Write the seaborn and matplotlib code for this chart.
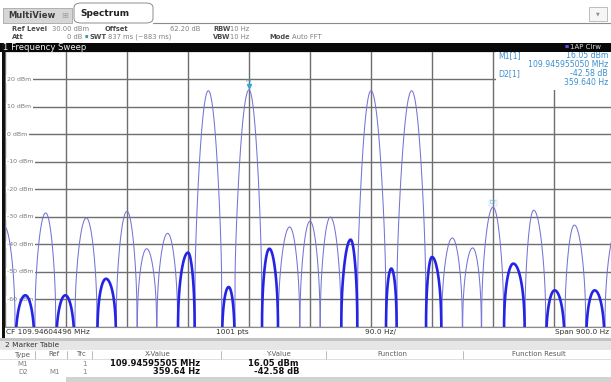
import numpy as np
import pandas as pd
import matplotlib
matplotlib.use("Agg")
import matplotlib.pyplot as plt
import seaborn as sns
from matplotlib.patches import Rectangle, FancyBboxPatch

# ---------------- data ----------------
# lobe edges (nulls), Hz offset from centre frequency
lobe_nulls = [-466, -435, -406, -375, -347, -314, -286, -255, -226, -195, -170,
              -130, -111, -71, -47, -15, 15, 46, 70, 112, 128, 171, 194, 225,
              253, 286, 317, 348, 376, 407, 435, 468]
# lobe peak positions (Hz offset) and peak levels (dBm)
lobe_peak_freq = [-451, -420, -390, -361, -330, -301, -270, -241, -210, -180, -150,
                  -120, -90, -60, -30, 0, 30, 60, 90, 120, 150,
                  180, 210, 240, 270, 300, 330, 361, 390, 420, 452]
lobe_peak_dbm = [-33.5, -58.5, -28.6, -58.5, -30.4, -52.5, -28.0, -41.6, -36.0, -43.0, 15.75,
                 -55.5, 16.05, -41.6, -33.7, -31.6, -30.1, -38.3, 15.75, -48.8, 15.75,
                 -44.6, -37.7, -41.3, -26.5, -47.0, -27.6, -56.7, -33.0, -56.7, -35.0]
lobe_kind = ["thin", "noisy", "thin", "noisy", "thin", "noisy", "thin", "thin", "thin", "noisy", "thin",
             "noisy", "thin", "noisy", "thin", "thin", "thin", "noisy", "thin", "noisy", "thin",
             "noisy", "thin", "thin", "thin", "noisy", "thin", "noisy", "thin", "noisy", "thin"]

y_tick_values = [20, 10, 0, -10, -20, -30, -40, -50, -60]
m1_freq, m1_level = -90.0, 16.05
d2_freq, d2_level = 269.64, -26.53

# ---------------- build trace table ----------------
rows = []
for i in range(len(lobe_peak_freq)):
    a, b = lobe_nulls[i], lobe_nulls[i + 1]
    p, L = lobe_peak_freq[i], lobe_peak_dbm[i]
    f = np.linspace(a, b, 81)
    u = np.where(f < p, (f - p) / (p - a), (f - p) / (b - p))
    k = max(6.0, 22 + 0.744 * (L + 28.6))
    y = L - k * u ** 2 + 10 * np.log10(np.clip(1 - u ** 2, 1e-6, None))
    y = np.maximum(y, -80)
    for fi, yi in zip(f, y):
        rows.append({"freq": fi, "level": yi, "lobe": i, "kind": lobe_kind[i]})
df = pd.DataFrame(rows)

# ---------------- figure ----------------
sns.set_style("white")
plt.rcParams["font.family"] = ["DejaVu Sans"]
W, H = 611, 382
fig = plt.figure(figsize=(W / 100, H / 100), dpi=100)
fig.patch.set_facecolor("white")

def fx(x): return x / W
def fy(y): return 1 - y / H
def ftext(x, y, s, **kw):
    kw.setdefault("va", "center")
    fig.text(fx(x), fy(y), s, **kw)
def frect(x0, y0, x1, y1, **kw):
    fig.add_artist(Rectangle((fx(x0), fy(y1)), (x1 - x0) / W, (y1 - y0) / H,
                             transform=fig.transFigure, **kw))

# plot axes
x0p, x1p, y0p, y1p = 5, 615, 51.5, 327
ax = fig.add_axes([fx(x0p), fy(y1p), (x1p - x0p) / W, (y1p - y0p) / H])
ax.set_facecolor("white")
sns.lineplot(data=df, x="freq", y="level", units="lobe", hue="kind", size="kind",
             sizes={"thin": 0.75, "noisy": 1.9},
             palette={"thin": "#7474d6", "noisy": "#2424e4"},
             estimator=None, sort=False, legend=False, ax=ax, zorder=2)
ax.set_xlim(-450, 450)
ax.set_ylim(-70, 30)
ax.set_xticks(np.arange(-450, 451, 90))
ax.set_yticks(np.arange(-70, 31, 10))
ax.set_axisbelow(True)
ax.grid(True, color="#6e6e6e", lw=1.0)
ax.tick_params(left=False, bottom=False, labelleft=False, labelbottom=False)
ax.set_xlabel("")
ax.set_ylabel("")
for s in ["top", "right", "bottom", "left"]:
    ax.spines[s].set_visible(False)

for v in y_tick_values:
    ax.text(0.004, v, f"{v} dBm", transform=ax.get_yaxis_transform(), fontsize=4.5,
            color="#7a7a7a", va="center", ha="left", zorder=1.6,
            bbox=dict(facecolor="white", edgecolor="none", pad=0.8))

# marker info box (covers grid)
ax.add_patch(Rectangle((274.4, 16.0), 200, 20, facecolor="white", edgecolor="none", zorder=1.5))
mc = "#3a8fd0"
def ptext(x, y, s, **kw):
    kw.setdefault("va", "center")
    ax.text((x - x0p) / (x1p - x0p), 1 - (y - y0p) / (y1p - y0p), s,
            transform=ax.transAxes, color=mc, fontsize=5.6, zorder=4, **kw)
ptext(498, 56, "M1[1]", ha="left")
ptext(608, 56, "16.05 dBm", ha="right")
ptext(608, 64.5, "109.945955050 MHz", ha="right")
ptext(498, 73.5, "D2[1]", ha="left")
ptext(608, 73.5, "-42.58 dB", ha="right")
ptext(608, 82.5, "359.640 Hz", ha="right")

# markers on the trace
ax.plot([m1_freq], [m1_level + 1.3], marker="v", ms=3, color="#38a6d6", zorder=5)
ax.text(m1_freq, m1_level + 3.2, "M1", fontsize=3.2, color="#38a6d6", ha="center", va="center", zorder=5)
ax.text(d2_freq, d2_level + 1.6, "D2", fontsize=3.6, color="#5aa8d8", ha="center", va="center", zorder=5,
        bbox=dict(facecolor="none", edgecolor="#9ccbe8", lw=0.3, pad=0.3))

# ---------------- header ----------------
frect(3, 8, 72, 23, facecolor="#d6d6d6", edgecolor="#a8a8a8", lw=0.6)
ftext(8, 15.5, "MultiView", fontsize=6, fontweight="bold", color="#3a3a3a")
ftext(61, 15.5, "⊞", fontsize=6, color="#a0a0a0")
fig.add_artist(FancyBboxPatch((fx(74), fy(23)), (153 - 74) / W, (23 - 3) / H,
                              boxstyle="round,pad=0,rounding_size=0.012",
                              transform=fig.transFigure, facecolor="white",
                              edgecolor="#8c8c8c", lw=0.7))
ftext(80, 13.5, "Spectrum", fontsize=6.5, fontweight="bold", color="#202020")
fig.add_artist(plt.Line2D([fx(153), 1], [fy(23), fy(23)], transform=fig.transFigure,
                          color="#8c8c8c", lw=0.8))
frect(589, 7, 607, 21, facecolor="#f6f6f6", edgecolor="#b4b4b4", lw=0.6)
ftext(598, 14, "▼", fontsize=3.5, color="#909090", ha="center")

fs = 4.9
lab = dict(fontsize=fs, fontweight="bold", color="#4a4a4a")
val = dict(fontsize=fs, color="#808080")
ftext(12, 29, "Ref Level", **lab)
ftext(52, 29, "30.00 dBm", **val)
ftext(105, 29, "Offset", **lab)
ftext(200, 29, "62.20 dB", ha="right", **val)
ftext(213, 29, "RBW", **lab)
ftext(230, 29, "10 Hz", **val)
ftext(12, 37, "Att", **lab)
ftext(82, 37, "0 dB", ha="right", **val)
ftext(85, 37, "■", fontsize=2.6, color="#3a9c9c")
ftext(90, 37, "SWT", **lab)
ftext(108, 37, "837 ms (~883 ms)", **val)
ftext(213, 37, "VBW", **lab)
ftext(230, 37, "10 Hz", **val)
ftext(269, 37, "Mode", **lab)
ftext(292, 37, "Auto FFT", **val)

# black title bar
frect(0, 42.5, W, 51.5, facecolor="#080808", edgecolor="none")
ftext(3, 47.2, "1 Frequency Sweep", fontsize=6.1, color="#f0f0f0")
ftext(565, 47.2, "■", fontsize=3.2, color="#5a4ee0")
ftext(570, 47.2, "1AP Clrw", fontsize=5.0, color="#d8d8d8")

# left frame
frect(2, 42.5, 5, 338, facecolor="#101010", edgecolor="none")

# ---------------- footer ----------------
fig.add_artist(plt.Line2D([fx(5), 1], [fy(327.3), fy(327.3)], transform=fig.transFigure,
                          color="#8a8a8a", lw=0.8))
ff = dict(fontsize=5.3, color="#303030")
ftext(6, 332.3, "CF 109.94604496 MHz", **ff)
ftext(216, 332.3, "1001 pts", **ff)
ftext(365, 332.3, "90.0 Hz/", **ff)
ftext(609, 332.3, "Span 900.0 Hz", ha="right", **ff)
frect(0, 337.5, W, 340.5, facecolor="#c4c4c4", edgecolor="none")

# ---------------- marker table ----------------
frect(0, 340.5, W, 349.5, facecolor="#e6e6e6", edgecolor="none")
ftext(5, 345, "2 Marker Table", fontsize=5.3, color="#333333")
hdr = dict(fontsize=5.0, color="#5a5a5a", ha="center")
for x, s in [(22, "Type"), (54, "Ref"), (81, "Trc"), (158, "X-Value"), (278, "Y-Value"),
             (392, "Function"), (539, "Function Result")]:
    ftext(x, 354.5, s, **hdr)
for x in [35, 67, 92, 221, 326, 463]:
    fig.add_artist(plt.Line2D([fx(x), fx(x)], [fy(350.5), fy(358.5)], transform=fig.transFigure,
                              color="#b0b0b0", lw=0.6))
fig.add_artist(plt.Line2D([0, 1], [fy(358.8), fy(358.8)], transform=fig.transFigure,
                          color="#d0d0d0", lw=0.5))
rc = dict(fontsize=5.0, color="#808080", ha="center")
bd = dict(fontsize=6.0, fontweight="bold", color="#111111", ha="right")
ftext(23, 363.5, "M1", **rc)
ftext(84, 363.5, "1", **rc)
ftext(200, 363.5, "109.94595505 MHz", **bd)
ftext(299, 363.5, "16.05 dBm", **bd)
ftext(23, 371.5, "D2", **rc)
ftext(55, 371.5, "M1", **rc)
ftext(84, 371.5, "1", **rc)
ftext(200, 371.5, "359.64 Hz", **bd)
ftext(299, 371.5, "-42.58 dB", **bd)
frect(66, 376.5, W, H, facecolor="#d2d2d2", edgecolor="none")

fig.savefig("out.png", dpi=100, facecolor="white")
